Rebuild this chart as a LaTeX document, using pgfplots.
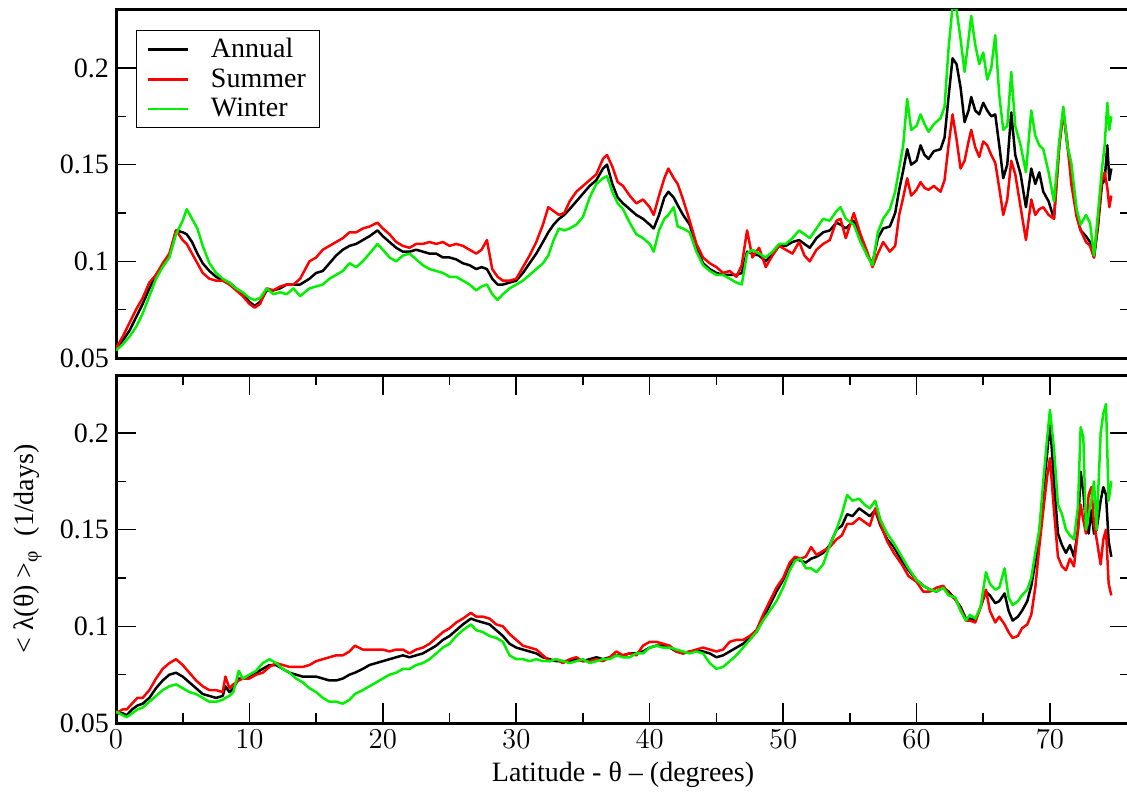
\documentclass[border=0pt]{standalone}
\usepackage{fontspec}
\setmainfont{Liberation Serif}
\usepackage{pgfplots}
\usepackage{pgfplotstable}
\pgfplotsset{compat=1.18}

\definecolor{wgreen}{RGB}{0,240,0}

% latitude, annual, summer, winter  (upper panel)
\pgfplotstableread{
lat annual summer winter
0.0 0.055 0.055 0.054
0.5 0.059 0.061 0.057
1.0 0.064 0.068 0.061
1.5 0.071 0.075 0.066
2.0 0.078 0.081 0.073
2.5 0.086 0.089 0.082
3.0 0.093 0.093 0.091
3.5 0.098 0.099 0.097
4.0 0.103 0.104 0.102
4.5 0.116 0.116 0.114
5.0 0.115 0.111 0.121
5.3 0.114 0.109 0.127
5.7 0.110 0.104 0.122
6.1 0.104 0.099 0.117
6.5 0.099 0.094 0.108
7.0 0.095 0.091 0.099
7.5 0.092 0.090 0.094
8.0 0.090 0.090 0.091
8.5 0.089 0.088 0.089
9.0 0.086 0.085 0.086
9.5 0.083 0.082 0.084
10.0 0.079 0.078 0.081
10.4 0.077 0.076 0.080
10.8 0.079 0.078 0.081
11.3 0.085 0.086 0.086
11.8 0.085 0.085 0.083
12.3 0.086 0.087 0.084
12.8 0.088 0.088 0.083
13.3 0.088 0.088 0.086
13.8 0.088 0.091 0.082
14.5 0.091 0.100 0.086
15.0 0.094 0.102 0.087
15.5 0.095 0.106 0.088
16.0 0.099 0.108 0.091
16.5 0.103 0.110 0.093
17.0 0.106 0.112 0.095
17.5 0.108 0.115 0.099
18.0 0.109 0.115 0.097
18.5 0.111 0.117 0.100
19.0 0.113 0.118 0.104
19.6 0.116 0.120 0.109
20.0 0.113 0.117 0.106
20.5 0.110 0.114 0.102
21.0 0.107 0.110 0.100
21.5 0.105 0.108 0.103
22.0 0.105 0.107 0.104
22.5 0.106 0.109 0.101
23.0 0.105 0.109 0.098
23.5 0.104 0.110 0.096
24.0 0.104 0.109 0.095
24.5 0.102 0.110 0.094
25.0 0.102 0.108 0.092
25.5 0.101 0.109 0.092
26.0 0.099 0.108 0.090
26.5 0.098 0.106 0.088
27.0 0.096 0.104 0.085
27.4 0.097 0.106 0.087
27.8 0.096 0.111 0.088
28.2 0.091 0.096 0.083
28.6 0.088 0.092 0.080
29.0 0.088 0.090 0.083
29.5 0.089 0.090 0.086
30.0 0.090 0.091 0.088
30.5 0.094 0.097 0.090
31.0 0.099 0.103 0.093
31.5 0.104 0.110 0.096
32.0 0.110 0.119 0.099
32.4 0.115 0.128 0.103
32.8 0.119 0.126 0.111
33.2 0.122 0.124 0.117
33.6 0.124 0.125 0.116
34.0 0.127 0.131 0.117
34.5 0.131 0.136 0.119
35.0 0.135 0.139 0.123
35.5 0.139 0.142 0.133
36.0 0.142 0.145 0.140
36.5 0.148 0.153 0.143
36.8 0.150 0.155 0.144
37.2 0.140 0.149 0.136
37.6 0.133 0.141 0.130
38.0 0.130 0.139 0.127
38.5 0.127 0.134 0.120
39.0 0.124 0.130 0.114
39.5 0.122 0.132 0.112
40.0 0.119 0.128 0.109
40.3 0.117 0.124 0.105
40.7 0.124 0.134 0.116
41.1 0.133 0.143 0.122
41.4 0.136 0.148 0.124
41.8 0.133 0.143 0.128
42.1 0.129 0.140 0.118
42.5 0.124 0.132 0.117
43.0 0.119 0.121 0.115
43.5 0.107 0.109 0.105
44.0 0.099 0.102 0.098
44.5 0.096 0.099 0.095
45.0 0.094 0.097 0.093
45.5 0.093 0.094 0.093
46.0 0.093 0.095 0.091
46.5 0.093 0.092 0.089
46.9 0.094 0.098 0.088
47.3 0.105 0.116 0.104
47.7 0.104 0.102 0.106
48.2 0.103 0.107 0.104
48.7 0.100 0.097 0.102
49.2 0.104 0.103 0.105
49.7 0.108 0.108 0.109
50.2 0.108 0.106 0.109
50.7 0.110 0.104 0.112
51.2 0.111 0.110 0.116
51.6 0.109 0.103 0.114
52.0 0.107 0.100 0.112
52.5 0.112 0.106 0.117
53.0 0.115 0.109 0.122
53.5 0.116 0.111 0.121
54.0 0.120 0.121 0.126
54.3 0.119 0.122 0.128
54.7 0.117 0.112 0.122
55.3 0.121 0.125 0.119
55.8 0.113 0.114 0.110
56.3 0.103 0.105 0.103
56.7 0.099 0.097 0.098
57.1 0.112 0.104 0.115
57.5 0.117 0.110 0.122
58.0 0.118 0.105 0.127
58.4 0.125 0.108 0.136
58.7 0.137 0.124 0.148
59.0 0.147 0.133 0.160
59.3 0.158 0.143 0.184
59.6 0.150 0.134 0.168
60.0 0.152 0.137 0.170
60.3 0.160 0.141 0.176
60.6 0.155 0.138 0.171
60.9 0.153 0.137 0.167
61.3 0.157 0.139 0.171
61.8 0.158 0.136 0.174
62.1 0.164 0.142 0.180
62.4 0.185 0.160 0.210
62.7 0.205 0.176 0.232
63.0 0.202 0.163 0.230
63.3 0.190 0.148 0.215
63.6 0.172 0.152 0.198
63.9 0.178 0.162 0.215
64.1 0.185 0.168 0.227
64.4 0.178 0.159 0.212
64.7 0.176 0.154 0.202
65.0 0.182 0.162 0.208
65.3 0.178 0.160 0.194
65.6 0.175 0.155 0.200
65.9 0.176 0.151 0.217
66.2 0.160 0.138 0.186
66.5 0.143 0.124 0.168
66.8 0.150 0.132 0.170
67.1 0.177 0.152 0.198
67.4 0.155 0.145 0.170
67.8 0.145 0.128 0.160
68.2 0.128 0.111 0.146
68.6 0.148 0.132 0.178
68.9 0.140 0.124 0.165
69.2 0.146 0.127 0.160
69.5 0.136 0.128 0.158
69.9 0.131 0.124 0.146
70.3 0.122 0.122 0.131
70.7 0.160 0.160 0.162
71.0 0.178 0.177 0.180
71.3 0.160 0.162 0.160
71.6 0.146 0.140 0.151
72.0 0.124 0.123 0.127
72.3 0.116 0.116 0.119
72.7 0.113 0.110 0.124
73.0 0.110 0.108 0.120
73.3 0.102 0.102 0.103
73.6 0.118 0.120 0.125
73.9 0.140 0.142 0.148
74.1 0.142 0.146 0.160
74.3 0.160 0.138 0.182
74.45 0.142 0.128 0.168
74.6 0.148 0.134 0.175
}\toptable

% latitude, annual, summer, winter  (lower panel)
\pgfplotstableread{
lat annual summer winter
0.0 0.055 0.055 0.056
0.5 0.055 0.057 0.054
0.8 0.054 0.057 0.053
1.2 0.057 0.060 0.055
1.6 0.059 0.063 0.057
2.0 0.060 0.063 0.058
2.5 0.063 0.067 0.061
3.0 0.068 0.073 0.064
3.5 0.072 0.078 0.067
4.0 0.075 0.081 0.069
4.5 0.076 0.083 0.070
5.0 0.074 0.080 0.068
5.5 0.071 0.076 0.066
6.0 0.068 0.072 0.065
6.5 0.065 0.069 0.063
7.0 0.064 0.067 0.061
7.5 0.063 0.067 0.061
8.0 0.064 0.066 0.062
8.2 0.069 0.074 0.063
8.5 0.066 0.068 0.064
8.8 0.068 0.070 0.066
9.2 0.073 0.072 0.077
9.5 0.073 0.073 0.073
10.0 0.074 0.073 0.075
10.5 0.076 0.075 0.077
11.0 0.078 0.076 0.081
11.5 0.080 0.079 0.083
12.0 0.080 0.081 0.081
12.5 0.078 0.080 0.078
13.0 0.076 0.079 0.076
13.5 0.075 0.079 0.073
14.0 0.074 0.079 0.071
14.5 0.074 0.080 0.068
15.0 0.074 0.082 0.066
15.5 0.073 0.083 0.063
16.0 0.072 0.084 0.061
16.5 0.072 0.085 0.061
17.0 0.073 0.085 0.060
17.5 0.075 0.087 0.062
17.9 0.076 0.090 0.065
18.5 0.078 0.088 0.067
19.0 0.080 0.088 0.069
19.5 0.081 0.088 0.071
20.0 0.082 0.088 0.073
20.5 0.083 0.087 0.075
21.0 0.084 0.088 0.076
21.5 0.085 0.088 0.078
22.0 0.084 0.086 0.078
22.5 0.085 0.088 0.080
23.0 0.086 0.089 0.081
23.5 0.088 0.091 0.083
24.0 0.090 0.094 0.086
24.5 0.093 0.097 0.089
25.0 0.095 0.099 0.091
25.5 0.098 0.102 0.095
26.0 0.101 0.104 0.098
26.6 0.104 0.107 0.101
27.0 0.103 0.105 0.098
27.5 0.102 0.105 0.097
28.0 0.101 0.104 0.095
28.5 0.098 0.101 0.094
29.0 0.095 0.100 0.092
29.5 0.091 0.096 0.085
30.0 0.089 0.093 0.083
30.5 0.088 0.090 0.083
31.0 0.087 0.089 0.082
31.5 0.086 0.088 0.083
32.0 0.084 0.085 0.082
32.5 0.083 0.082 0.082
33.0 0.082 0.083 0.083
33.5 0.082 0.081 0.082
34.0 0.082 0.083 0.081
34.5 0.083 0.084 0.082
35.0 0.082 0.082 0.083
35.5 0.083 0.082 0.081
36.0 0.084 0.083 0.082
36.5 0.083 0.082 0.083
37.0 0.084 0.084 0.083
37.5 0.085 0.087 0.085
38.0 0.085 0.085 0.084
38.5 0.086 0.086 0.084
39.0 0.086 0.085 0.086
39.5 0.087 0.090 0.086
40.0 0.089 0.092 0.089
40.5 0.090 0.092 0.090
41.0 0.090 0.091 0.089
41.5 0.089 0.090 0.089
42.0 0.087 0.087 0.088
42.5 0.086 0.086 0.087
43.0 0.087 0.087 0.086
43.5 0.087 0.088 0.087
44.0 0.087 0.089 0.086
44.5 0.086 0.088 0.081
45.0 0.084 0.087 0.078
45.5 0.085 0.088 0.079
46.0 0.087 0.092 0.082
46.5 0.089 0.093 0.085
47.0 0.091 0.093 0.089
47.5 0.094 0.095 0.093
48.0 0.097 0.098 0.097
48.5 0.104 0.106 0.103
49.0 0.111 0.113 0.108
49.5 0.118 0.120 0.113
50.0 0.124 0.125 0.120
50.5 0.131 0.133 0.129
50.9 0.135 0.136 0.134
51.3 0.134 0.135 0.135
51.7 0.133 0.136 0.130
52.1 0.135 0.141 0.130
52.5 0.136 0.137 0.128
53.0 0.138 0.139 0.132
53.5 0.142 0.141 0.142
54.0 0.150 0.145 0.150
54.4 0.152 0.147 0.158
54.8 0.158 0.153 0.168
55.2 0.157 0.153 0.165
55.7 0.161 0.156 0.166
56.1 0.159 0.154 0.163
56.5 0.157 0.152 0.161
56.9 0.160 0.161 0.165
57.3 0.152 0.153 0.155
57.8 0.145 0.144 0.148
58.3 0.141 0.138 0.143
58.9 0.134 0.132 0.136
59.4 0.129 0.126 0.130
60.0 0.124 0.123 0.124
60.5 0.121 0.118 0.121
61.0 0.119 0.118 0.119
61.5 0.118 0.120 0.118
62.0 0.120 0.121 0.120
62.4 0.118 0.117 0.116
62.9 0.114 0.114 0.115
63.3 0.110 0.109 0.108
63.7 0.104 0.103 0.103
64.0 0.104 0.103 0.106
64.4 0.103 0.102 0.104
64.8 0.110 0.110 0.110
65.2 0.118 0.119 0.128
65.5 0.116 0.108 0.122
65.9 0.112 0.102 0.119
66.2 0.113 0.105 0.120
66.6 0.117 0.101 0.130
66.9 0.108 0.097 0.115
67.2 0.103 0.094 0.111
67.6 0.105 0.095 0.113
67.9 0.108 0.099 0.116
68.3 0.113 0.101 0.119
68.6 0.121 0.106 0.125
68.9 0.133 0.120 0.138
69.2 0.148 0.141 0.150
69.5 0.170 0.160 0.175
69.8 0.190 0.178 0.198
70.0 0.206 0.187 0.212
70.3 0.175 0.160 0.192
70.6 0.148 0.136 0.163
70.9 0.142 0.131 0.158
71.2 0.138 0.129 0.150
71.5 0.142 0.135 0.147
71.8 0.136 0.131 0.145
72.1 0.150 0.150 0.162
72.3 0.180 0.163 0.203
72.5 0.170 0.155 0.198
72.7 0.152 0.148 0.150
72.9 0.148 0.168 0.158
73.1 0.160 0.172 0.165
73.3 0.148 0.153 0.175
73.5 0.150 0.145 0.150
73.8 0.165 0.132 0.200
74.0 0.172 0.145 0.210
74.2 0.168 0.150 0.215
74.4 0.144 0.122 0.165
74.6 0.136 0.116 0.175
}\bottable

\pgfplotsset{
  panel/.style={
    scale only axis,
    width=507pt, height=174pt,
    xmin=0, xmax=76, ymin=0.05, ymax=0.23,
    ytick={0.05,0.1,0.15,0.2},
    yticklabels={0.05,0.1,0.15,0.2},
    minor y tick num=1,
    axis line style={line width=1.5pt},
    tick style={line width=0.8pt, black},
    major tick length=10pt, minor tick length=5pt,
    tick align=inside,
    ticklabel style={font=\fontsize{14}{16}\selectfont},
    label style={font=\fontsize{14}{16}\selectfont},
    every axis plot/.append style={line width=1.25pt, line join=round, no marks},
  },
}

\begin{document}
\begin{tikzpicture}
% lower panel
\begin{axis}[panel, name=bot, at={(0,0)}, anchor=south west,
    xtick={0,10,...,70}, minor x tick num=1,
    xlabel={Latitude - θ – (degrees)},
    ylabel={< λ(θ) >\textsubscript{φ}\ \ (1/days)},
    ylabel style={at={(axis description cs:-0.087,0.5)}, anchor=center},
    xlabel style={at={(axis description cs:0.5,0)}, yshift=-26pt, anchor=center},
]
\addplot[black] table[x=lat, y=annual] {\bottable};
\addplot[red] table[x=lat, y=summer] {\bottable};
\addplot[wgreen] table[x=lat, y=winter] {\bottable};
\end{axis}
% upper panel
\begin{axis}[panel, name=top, at={(0,182.5pt)}, anchor=south west,
    xtick=\empty,
    legend style={at={(0.0197,0.943)}, anchor=north west, draw=black,
      line width=0.5pt, font=\fontsize{14}{16}\selectfont,
      inner xsep=5pt, inner ysep=2pt, row sep=0pt, cells={anchor=west}},
    legend image code/.code={\draw[#1, line width=1.25pt] (0pt,0pt) -- (20pt,0pt);
      \path (29pt,0pt);},
]
\addplot[black] table[x=lat, y=annual] {\toptable};
\addplot[red] table[x=lat, y=summer] {\toptable};
\addplot[wgreen] table[x=lat, y=winter] {\toptable};
\legend{Annual, Summer, Winter}
\end{axis}
\pgfresetboundingbox
\path (bot.south west) ++(-58pt,-35pt) rectangle ++(563.5pt,396.5pt);
\end{tikzpicture}
\end{document}
